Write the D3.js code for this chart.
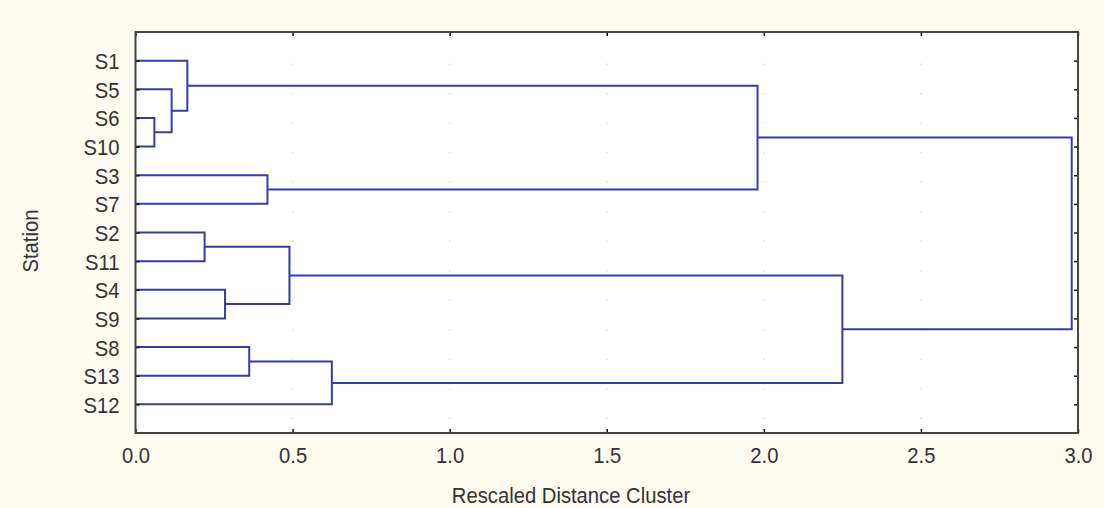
<!DOCTYPE html>
<html>
<head>
<meta charset="utf-8">
<script src="https://cdn.jsdelivr.net/npm/d3@7"></script>
<style>
  html, body { margin: 0; padding: 0; background: #fdfaf0; }
  svg { display: block; }
  text { font-family: "Liberation Sans", Arial, sans-serif; fill: #333; }
</style>
</head>
<body>
<svg id="chart" width="1104" height="508"></svg>
<script>
// Stations in dendrogram order (top to bottom)
const stations = ["S1", "S5", "S6", "S10", "S3", "S7", "S2", "S11", "S4", "S9", "S8", "S13", "S12"];

// Linkage: each merge joins two nodes; indices below stations.length are stations,
// higher indices refer to earlier merges (stations.length + merge number)
const mergeLeft   = [2, 1, 0, 4, 6, 8, 17, 10, 20, 15, 19, 22];
const mergeRight  = [3, 13, 14, 5, 7, 9, 18, 11, 12, 16, 21, 23];
const mergeHeight = [0.06, 0.115, 0.165, 0.42, 0.22, 0.285, 0.49, 0.362, 0.625, 1.98, 2.25, 2.98];

const xTicks = [0, 0.5, 1.0, 1.5, 2.0, 2.5, 3.0];
const xTitle = "Rescaled Distance Cluster";
const yTitle = "Station";

const svg = d3.select("#chart");
const W = 1104, H = 508;
const plot = { left: 135.5, right: 1078, top: 32, bottom: 433 };
const fontSize = 22, squeeze = 0.92;

svg.append("rect").attr("width", W).attr("height", H).attr("fill", "#fdfaf0");

const x = d3.scaleLinear().domain([0, 3]).range([plot.left, plot.right]);
const y = d3.scaleLinear().domain([0, stations.length + 1]).range([plot.top, plot.bottom]);

// plot background
svg.append("rect")
  .attr("x", plot.left).attr("y", plot.top)
  .attr("width", plot.right - plot.left).attr("height", plot.bottom - plot.top)
  .attr("fill", "#ffffff");

// faint dotted vertical grid
svg.append("g").selectAll("line")
  .data(xTicks.slice(1, -1))
  .join("line")
  .attr("x1", d => x(d)).attr("x2", d => x(d))
  .attr("y1", plot.top + 2).attr("y2", plot.bottom - 2)
  .attr("stroke", "#d8d8d8")
  .attr("stroke-width", 1.2)
  .attr("stroke-dasharray", "1.5,28");

// node positions: stations at rows 1..n, merges at the midpoint of their children
const n = stations.length;
const nodeY = stations.map((s, i) => y(i + 1));
const nodeH = stations.map(() => 0);
mergeHeight.forEach((h, i) => {
  nodeY.push((nodeY[mergeLeft[i]] + nodeY[mergeRight[i]]) / 2);
  nodeH.push(h);
});

const links = mergeHeight.map((h, i) => ({ a: mergeLeft[i], b: mergeRight[i], h }));

svg.append("g").selectAll("path")
  .data(links)
  .join("path")
  .attr("d", d => {
    const p = d3.path();
    p.moveTo(x(nodeH[d.a]), nodeY[d.a]);
    p.lineTo(x(d.h), nodeY[d.a]);
    p.lineTo(x(d.h), nodeY[d.b]);
    p.lineTo(x(nodeH[d.b]), nodeY[d.b]);
    return p.toString();
  })
  .attr("fill", "none")
  .attr("stroke", "#3a3aa6")
  .attr("stroke-width", 2);

// axes
const fmt = d3.format(".1f");
const bottomAxis = svg.append("g")
  .attr("transform", `translate(0,${plot.bottom})`)
  .call(d3.axisBottom(x).tickValues(xTicks).tickFormat(fmt).tickSizeInner(-4).tickSizeOuter(0).tickPadding(14));
const topAxis = svg.append("g")
  .attr("transform", `translate(0,${plot.top})`)
  .call(d3.axisTop(x).tickValues(xTicks).tickFormat("").tickSizeInner(-4).tickSizeOuter(0));

const rowIdx = d3.range(1, n + 1);
const leftAxis = svg.append("g")
  .attr("transform", `translate(${plot.left},0)`)
  .call(d3.axisLeft(y).tickValues(rowIdx).tickFormat(d => stations[d - 1]).tickSizeInner(-4).tickSizeOuter(0).tickPadding(16 / squeeze));
const rightAxis = svg.append("g")
  .attr("transform", `translate(${plot.right},0)`)
  .call(d3.axisRight(y).tickValues(rowIdx).tickFormat("").tickSizeInner(-4).tickSizeOuter(0));

[bottomAxis, topAxis, leftAxis, rightAxis].forEach(g => {
  g.select(".domain").remove();
  g.selectAll(".tick line").attr("stroke", "#111").attr("stroke-width", 1.5);
  g.selectAll("text")
    .attr("font-size", fontSize)
    .attr("font-family", "'Liberation Sans', Arial, sans-serif")
    .attr("fill", "#333")
    .attr("transform", `scale(${squeeze},1)`);
});
leftAxis.selectAll("text").attr("dy", "0.36em");

// frame
svg.append("rect")
  .attr("x", plot.left).attr("y", plot.top)
  .attr("width", plot.right - plot.left).attr("height", plot.bottom - plot.top)
  .attr("fill", "none")
  .attr("stroke", "#444")
  .attr("stroke-width", 2);

// titles
svg.append("text")
  .attr("transform", `translate(571,503) scale(${squeeze},1)`)
  .attr("text-anchor", "middle")
  .attr("font-size", fontSize)
  .text(xTitle);

svg.append("text")
  .attr("transform", `translate(38,241) rotate(-90) scale(${squeeze},1)`)
  .attr("text-anchor", "middle")
  .attr("font-size", fontSize)
  .text(yTitle);
</script>
</body>
</html>
